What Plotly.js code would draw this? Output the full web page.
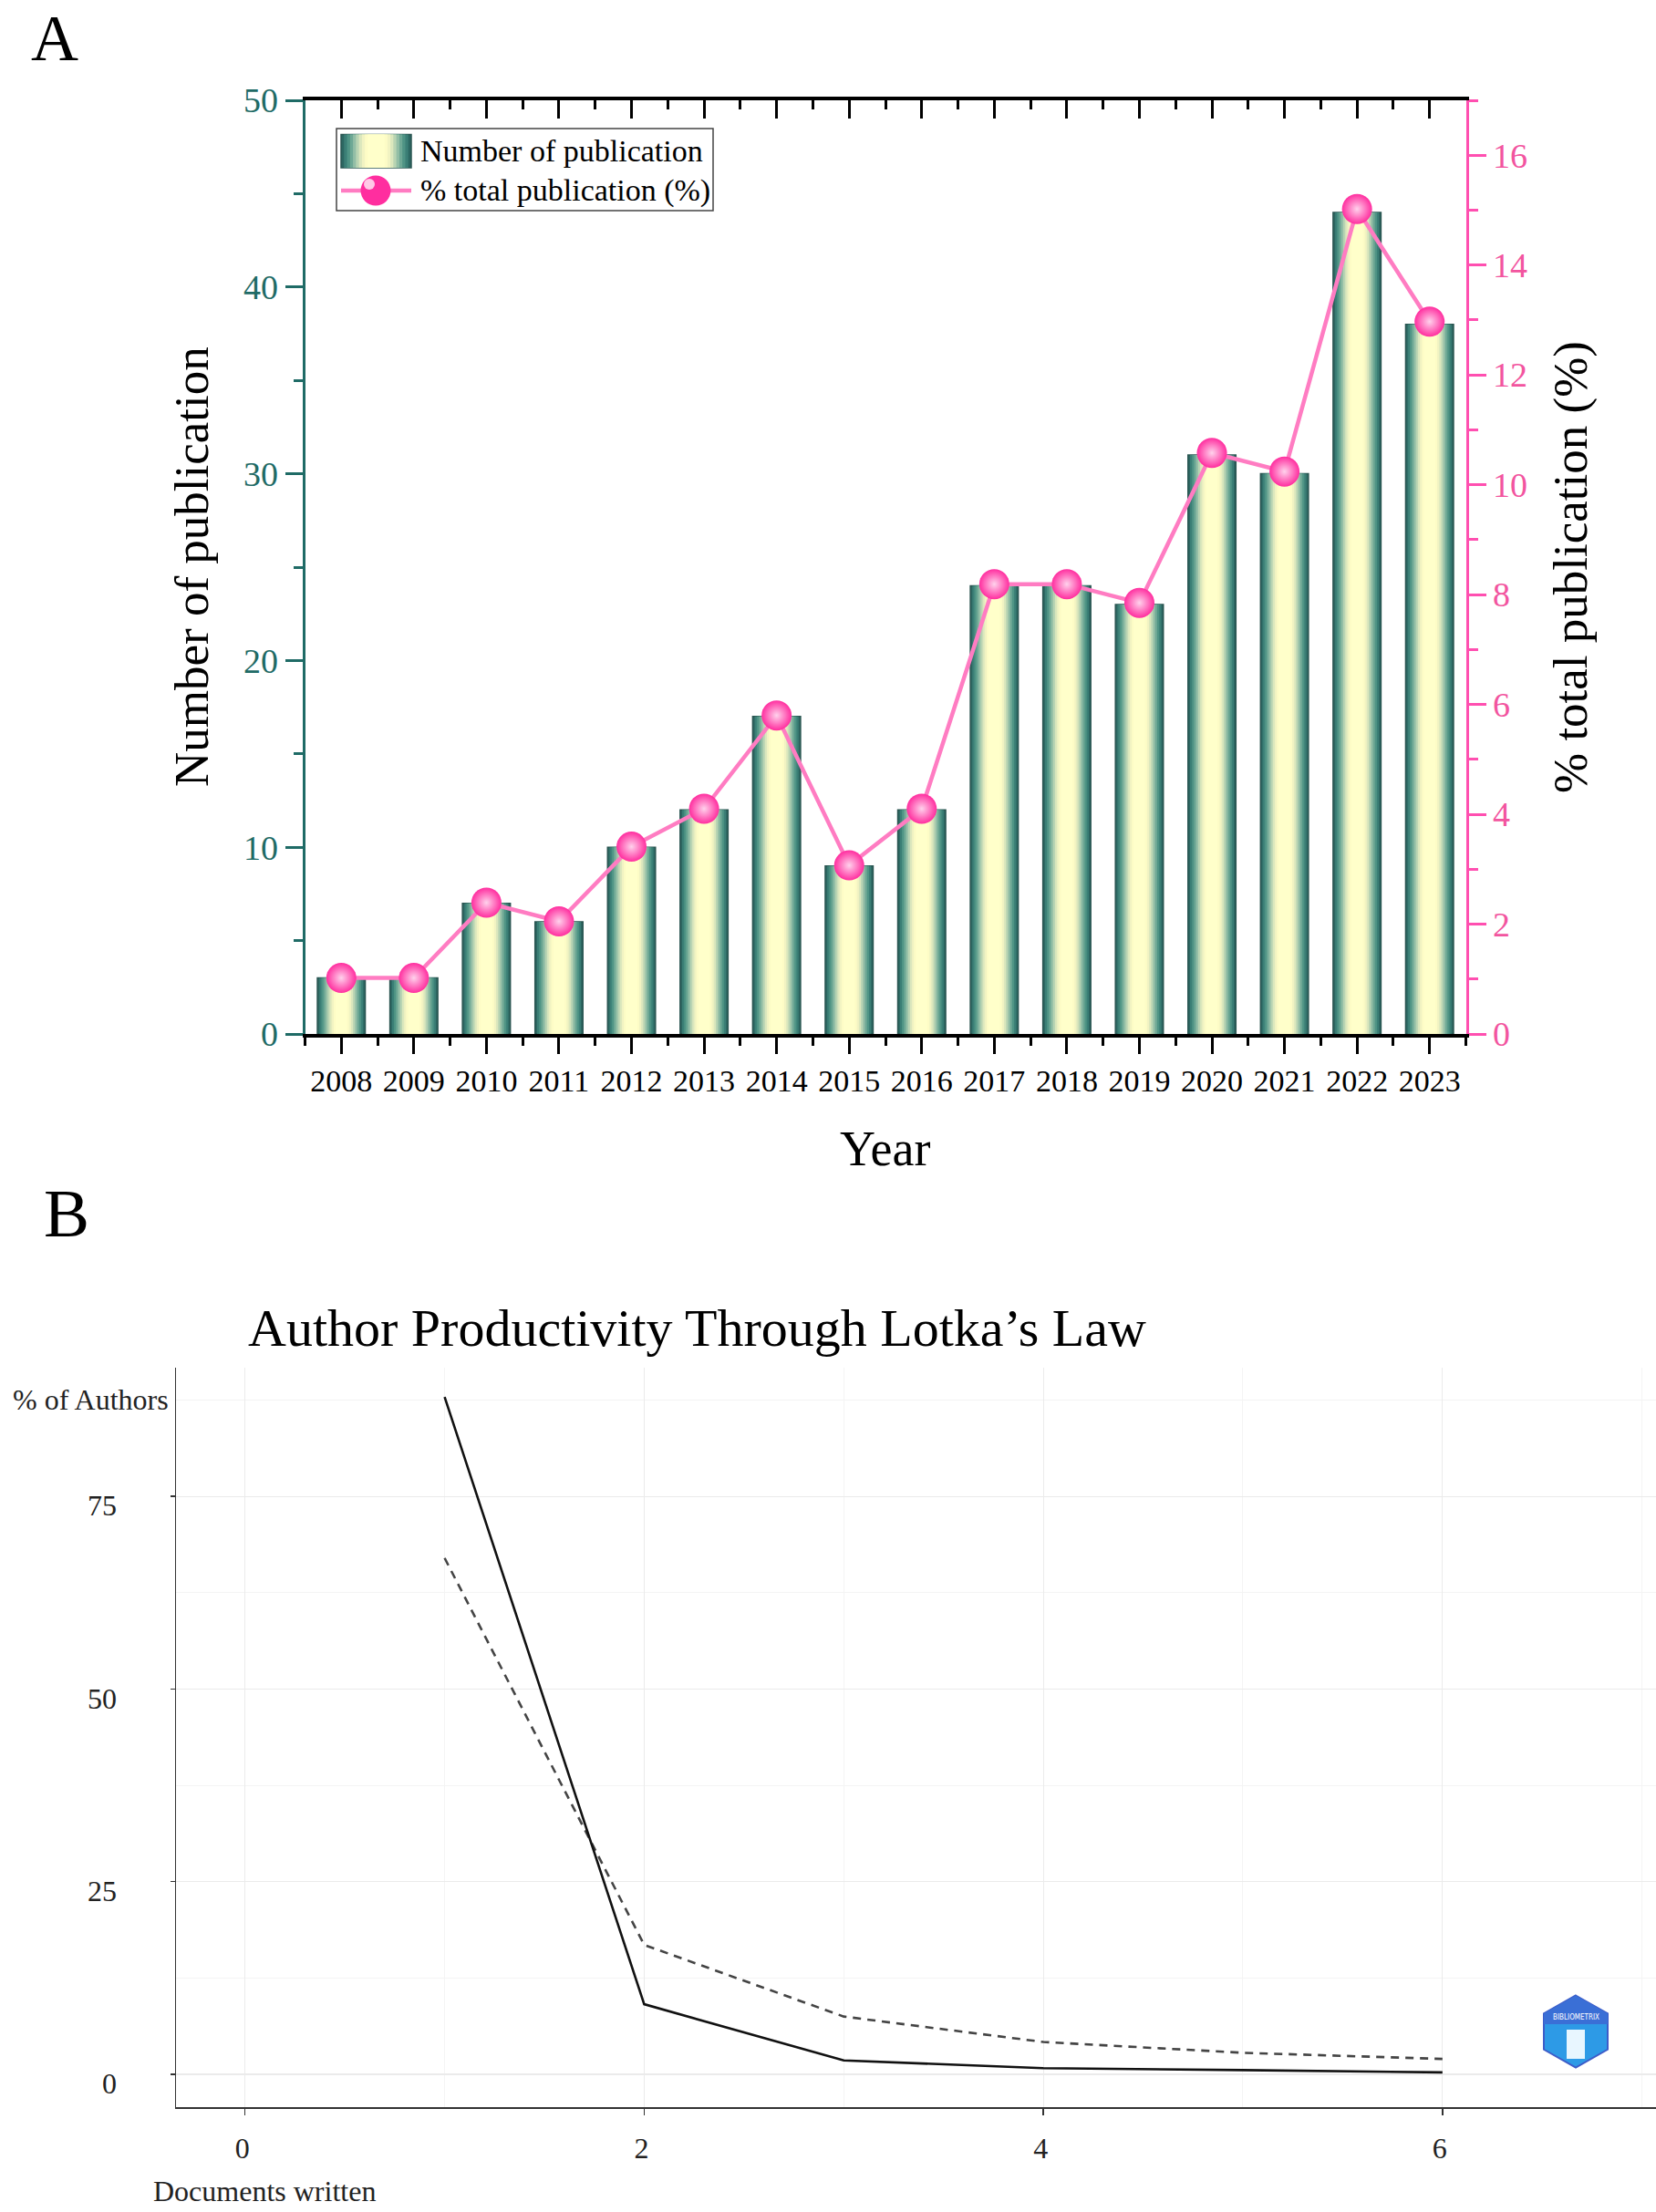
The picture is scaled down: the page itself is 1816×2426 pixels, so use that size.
<!DOCTYPE html>
<html>
<head>
<meta charset="utf-8">
<script src="https://cdn.plot.ly/plotly-3.0.1.min.js"></script>
<style>html,body{margin:0;padding:0;background:#fff;} #chart{width:1816px;height:2426px;}</style>
</head>
<body>
<div id="chart"></div>
<script>
// ---------- Panel A data ----------
const years = [2008, 2009, 2010, 2011, 2012, 2013, 2014, 2015, 2016, 2017, 2018, 2019, 2020, 2021, 2022, 2023];
const publications = [3, 3, 7, 6, 10, 12, 17, 9, 12, 24, 24, 23, 31, 30, 44, 38];
const percentTotal = [1.02, 1.02, 2.39, 2.05, 3.41, 4.10, 5.80, 3.07, 4.10, 8.19, 8.19, 7.85, 10.58, 10.24, 15.02, 12.97];

// ---------- Panel B data ----------
const docsWritten = [1, 2, 3, 4, 5, 6];
const observedAuthors = [87.9, 9.1, 1.8, 0.8, 0.55, 0.25];
const theoreticalAuthors = [67.0, 16.8, 7.5, 4.2, 2.8, 2.0];

const W = 1816, H = 2426;
const X = px => px / W;
const Y = py => 1 - py / H;
const SERIF = 'Liberation Serif, Times New Roman, serif';

const TEAL = '#1f6b66';
const PINK_AX = '#ff4fb0';
const PINK_TXT = '#f2559f';

// gradient palette for the cylinder-like bars (outer -> inner)
const barPalette = ['#2c6762', '#3b7f76', '#4f9485', '#6ea895', '#93bea6', '#b9d4b3', '#dbe7bd', '#f1f3c2', '#fdfcc6', '#ffffca'];
const barFull = 0.66;

const traces = [];
barPalette.forEach((c, i) => {
  const frac = 1 - i * 0.085;
  traces.push({
    type: 'bar', x: years, y: publications, xaxis: 'x', yaxis: 'y',
    width: barFull * frac,
    marker: {color: c, line: {color: i === 0 ? '#2a5551' : c, width: i === 0 ? 1.5 : 0}},
    showlegend: false, hoverinfo: 'skip'
  });
});
// invisible trace so the top mirror axis is built
traces.push({type: 'scatter', x: years, y: publications, xaxis: 'x2', yaxis: 'y', mode: 'none', showlegend: false, hoverinfo: 'skip'});
// percent line
traces.push({
  type: 'scatter', x: years, y: percentTotal, xaxis: 'x', yaxis: 'y2',
  mode: 'lines+markers', name: '% total publication (%)',
  line: {color: '#ff7cc2', width: 4.5},
  marker: {size: 33, color: '#ff2e9f', gradient: {type: 'radial', color: '#ffd2ec'}, line: {width: 0}},
  showlegend: false
});
// Lotka
traces.push({
  type: 'scatter', x: docsWritten, y: theoreticalAuthors, xaxis: 'x3', yaxis: 'y3',
  mode: 'lines', line: {color: '#444', width: 2.6, dash: '9px,7px'}, showlegend: false
});
traces.push({
  type: 'scatter', x: docsWritten, y: observedAuthors, xaxis: 'x3', yaxis: 'y3',
  mode: 'lines', line: {color: '#111', width: 2.6}, showlegend: false
});

const domAx = [X(334.5), X(1607.5)];
const domAy = [Y(1134), Y(110)];

const shapes = [];
// legend box
shapes.push({type: 'rect', xref: 'paper', yref: 'paper', x0: X(369), x1: X(782), y0: Y(231), y1: Y(141), line: {color: '#444', width: 1.5}, fillcolor: 'rgba(255,255,255,1)', layer: 'above'});
// legend bar swatch (nested stripes)
const swL = 374, swR = 451, swT = 147.5, swB = 184;
barPalette.forEach((c, i) => {
  const half = (swR - swL) / 2 * (1 - i * 0.085);
  const cx = (swL + swR) / 2;
  shapes.push({type: 'rect', xref: 'paper', yref: 'paper', x0: X(cx - half), x1: X(cx + half), y0: Y(swB), y1: Y(swT),
    line: {color: i === 0 ? '#2a5551' : c, width: i === 0 ? 1.5 : 0}, fillcolor: c, layer: 'above'});
});
// legend line swatch
shapes.push({type: 'line', xref: 'paper', yref: 'paper', x0: X(374), x1: X(451), y0: Y(209), y1: Y(209), line: {color: '#ff7cc2', width: 4.5}, layer: 'above'});
shapes.push({type: 'circle', xref: 'paper', yref: 'paper', x0: X(412 - 16.5), x1: X(412 + 16.5), y0: Y(209 + 16.5), y1: Y(209 - 16.5), line: {width: 0}, fillcolor: '#ff2e9f', layer: 'above'});
shapes.push({type: 'circle', xref: 'paper', yref: 'paper', x0: X(405 - 6), x1: X(405 + 6), y0: Y(202 + 6), y1: Y(202 - 6), line: {width: 0}, fillcolor: '#ffc9e7', layer: 'above'});
// bibliometrix logo (hexagon)
const hx = 1728, hy = 2228, hw = 35, hh = 39.5;
const hexPts = [[hx, hy - hh], [hx + hw, hy - hh / 2], [hx + hw, hy + hh / 2], [hx, hy + hh], [hx - hw, hy + hh / 2], [hx - hw, hy - hh / 2]];
shapes.push({type: 'path', xref: 'paper', yref: 'paper',
  path: 'M' + hexPts.map(p => X(p[0]) + ',' + Y(p[1])).join(' L') + ' Z',
  fillcolor: '#2d9ae6', line: {color: '#3d5cc8', width: 2}, layer: 'above'});
shapes.push({type: 'path', xref: 'paper', yref: 'paper',
  path: 'M' + X(hx) + ',' + Y(hy - hh) + ' L' + X(hx + hw) + ',' + Y(hy - hh / 2) + ' L' + X(hx + hw) + ',' + Y(hy - 8) + ' L' + X(hx - hw) + ',' + Y(hy - 8) + ' L' + X(hx - hw) + ',' + Y(hy - hh / 2) + ' Z',
  fillcolor: '#3a6fd6', line: {width: 0}, layer: 'above'});
shapes.push({type: 'path', xref: 'paper', yref: 'paper',
  path: 'M' + X(hx - 10) + ',' + Y(hy + 30) + ' L' + X(hx - 10) + ',' + Y(hy - 2) + ' L' + X(hx + 10) + ',' + Y(hy - 2) + ' L' + X(hx + 10) + ',' + Y(hy + 30) + ' Z',
  fillcolor: '#e8f6ff', line: {width: 0}, layer: 'above'});

const ann = (text, x, y, size, extra) => Object.assign({text, x: X(x), y: Y(y), xref: 'paper', yref: 'paper', showarrow: false,
  font: {family: SERIF, size, color: '#000'}, xanchor: 'center', yanchor: 'middle'}, extra || {});

const annotations = [
  ann('A', 60, 0, 72, {yanchor: 'top'}),
  ann('B', 73, 1330, 75),
  ann('Number of publication', 210, 622, 53, {textangle: -90}),
  ann('% total publication (%)', 1722, 622, 53, {textangle: -90}),
  ann('Year', 971, 1260, 54),
  ann('Number of publication', 459, 165.5, 34, {xanchor: 'left'}),
  ann('% total publication (%)', 459, 209, 34, {xanchor: 'left'}),
  ann('Author Productivity Through Lotka’s Law', 270, 1456, 58, {xanchor: 'left'}),
  ann('% of Authors', 99, 1535, 32, {font: {family: SERIF, size: 32, color: '#222'}}),
  ann('Documents written', 290, 2403, 32, {font: {family: SERIF, size: 32, color: '#222'}}),
  ann('BIBLIOMETRIX', 1728, 2212, 8, {font: {family: 'DejaVu Sans Condensed, DejaVu Sans', size: 8, color: '#ffffff'}})
];

const layout = {
  width: W, height: H,
  margin: {l: 0, r: 0, t: 0, b: 0, pad: 0},
  paper_bgcolor: '#fff', plot_bgcolor: 'rgba(0,0,0,0)',
  font: {family: SERIF, color: '#000'},
  barmode: 'overlay', showlegend: false,
  xaxis: {
    domain: domAx, anchor: 'y', range: [2007.5, 2023.5], tickmode: 'linear', tick0: 2008, dtick: 1,
    showline: true, linecolor: '#000', linewidth: 4, ticks: 'outside', ticklen: 18, tickwidth: 3, tickcolor: '#000',
    tickfont: {family: SERIF, size: 34, color: '#000'}, showgrid: false, zeroline: false, automargin: false,
    minor: {tick0: 2007.5, dtick: 1, ticks: 'outside', ticklen: 9, tickwidth: 3, tickcolor: '#000', showgrid: false}
  },
  xaxis2: {
    overlaying: 'x', anchor: 'y', side: 'top', matches: 'x', range: [2007.5, 2023.5], tickmode: 'linear', tick0: 2008, dtick: 1,
    showline: true, linecolor: '#000', linewidth: 4, ticks: 'inside', ticklen: 20, tickwidth: 3, tickcolor: '#000',
    showticklabels: false, showgrid: false, zeroline: false, automargin: false,
    minor: {tick0: 2007.5, dtick: 1, ticks: 'inside', ticklen: 10, tickwidth: 3, tickcolor: '#000', showgrid: false}
  },
  yaxis: {
    domain: domAy, anchor: 'x', range: [0, 50], tickmode: 'linear', tick0: 0, dtick: 10,
    showline: true, linecolor: TEAL, linewidth: 3, ticks: 'outside', ticklen: 19, tickwidth: 3, tickcolor: TEAL,
    tickfont: {family: SERIF, size: 38, color: TEAL}, showgrid: false, zeroline: false, automargin: false,
    minor: {tick0: 0, dtick: 5, ticks: 'outside', ticklen: 10, tickwidth: 3, tickcolor: TEAL, showgrid: false}
  },
  yaxis2: {
    overlaying: 'y', anchor: 'x', side: 'right', range: [0, 17], tickmode: 'linear', tick0: 0, dtick: 2,
    showline: true, linecolor: PINK_AX, linewidth: 3, ticks: 'outside', ticklen: 19, tickwidth: 3, tickcolor: PINK_AX,
    tickfont: {family: SERIF, size: 38, color: PINK_TXT}, showgrid: false, zeroline: false, automargin: false,
    minor: {tick0: 0, dtick: 1, ticks: 'outside', ticklen: 10, tickwidth: 3, tickcolor: PINK_AX, showgrid: false}
  },
  xaxis3: {
    domain: [X(193), 1], anchor: 'y3', range: [-0.346, 7.07], tickmode: 'array', tickvals: [0, 2, 4, 6],
    showline: true, linecolor: '#333', linewidth: 2.5, ticks: 'outside', ticklen: 7, tickwidth: 1.5, tickcolor: '#333',
    tickfont: {family: SERIF, size: 32, color: '#222'}, ticklabelstandoff: 8, ticklabelshift: -3,
    showgrid: true, gridcolor: '#ebebeb', gridwidth: 1.2, zeroline: false, automargin: false,
    minor: {tick0: 0, dtick: 1, showgrid: true, gridcolor: '#f4f4f4', gridwidth: 1, ticks: ''}
  },
  yaxis3: {
    domain: [Y(2310.7), Y(1500)], anchor: 'x3', range: [-4.22, 91.7], tickmode: 'array', tickvals: [0, 25, 50, 75],
    showline: true, linecolor: '#333', linewidth: 1.5, ticks: 'outside', ticklen: 5, tickwidth: 1.5, tickcolor: '#333',
    tickfont: {family: SERIF, size: 32, color: '#222'}, ticklabelstandoff: 52, ticklabelshift: 10,
    showgrid: true, gridcolor: '#ebebeb', gridwidth: 1.2, zeroline: false, automargin: false,
    minor: {tick0: 0, dtick: 12.5, showgrid: true, gridcolor: '#f4f4f4', gridwidth: 1, ticks: ''}
  },
  shapes, annotations
};

Plotly.newPlot('chart', traces, layout, {staticPlot: true, displayModeBar: false});
</script>
</body>
</html>
